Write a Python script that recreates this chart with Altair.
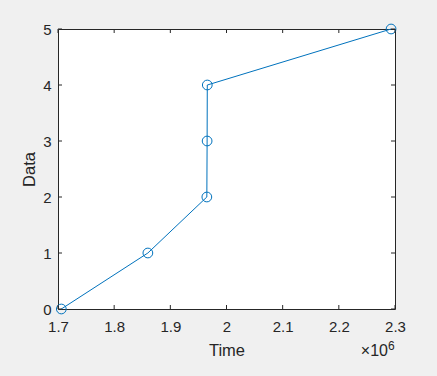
import altair as alt
import pandas as pd

time_vals = [1705900, 1860000, 1965000, 1965500, 1965800, 2293000]
data_vals = [0, 1, 2, 3, 4, 5]
x_ticks = [1.7e6, 1.8e6, 1.9e6, 2.0e6, 2.1e6, 2.2e6, 2.3e6]
y_ticks = [0, 1, 2, 3, 4, 5]

W, H = 337, 280
FONT = "Liberation Sans"
AX = "#262626"
BLUE = "#0072BD"

df = pd.DataFrame({"Time": time_vals, "Data": data_vals, "order": range(len(time_vals))})
xt = pd.DataFrame({"t": x_ticks})
yt = pd.DataFrame({"t": y_ticks})

xscale = alt.Scale(domain=[1.7e6, 2.3e6], nice=False, zero=False)
yscale = alt.Scale(domain=[0, 5], nice=False, zero=False)

xaxis = alt.Axis(values=x_ticks, labelExpr="format(datum.value/1e6, '')", title="Time",
                 ticks=False, domain=False, grid=False, labelPadding=10, titlePadding=8,
                 labelFlush=False, labelOverlap=False, labelBound=False,
                 labelFont=FONT, labelFontSize=15, labelColor=AX, titleFont=FONT,
                 titleFontSize=16.5, titleFontWeight="normal", titleColor=AX)
yaxis = alt.Axis(values=y_ticks, title="Data", ticks=False, domain=False, grid=False,
                 labelPadding=7, titlePadding=5, labelFlush=False, labelOverlap=False,
                 labelFont=FONT, labelFontSize=15,
                 labelColor=AX, titleFont=FONT, titleFontSize=16.5,
                 titleFontWeight="normal", titleColor=AX)

line = alt.Chart(df).mark_line(color=BLUE, strokeWidth=1).encode(
    x=alt.X("Time:Q", scale=xscale, axis=xaxis),
    y=alt.Y("Data:Q", scale=yscale, axis=yaxis),
    order="order:Q",
)
pts = alt.Chart(df).mark_point(shape="circle", filled=False, color=BLUE, size=95,
                               strokeWidth=1, opacity=1).encode(
    x=alt.X("Time:Q", scale=xscale),
    y=alt.Y("Data:Q", scale=yscale),
)

TL = 4
xb = alt.Chart(xt).mark_rule(color=AX, strokeWidth=1).encode(
    x=alt.X("t:Q", scale=xscale), y=alt.value(H), y2=alt.value(H - TL))
xtop = alt.Chart(xt).mark_rule(color=AX, strokeWidth=1).encode(
    x=alt.X("t:Q", scale=xscale), y=alt.value(0), y2=alt.value(TL))
yl = alt.Chart(yt).mark_rule(color=AX, strokeWidth=1).encode(
    y=alt.Y("t:Q", scale=yscale), x=alt.value(0), x2=alt.value(TL))
yr = alt.Chart(yt).mark_rule(color=AX, strokeWidth=1).encode(
    y=alt.Y("t:Q", scale=yscale), x=alt.value(W), x2=alt.value(W - TL))

exp_base = alt.Chart(pd.DataFrame({"s": ["\u00d710"]})).mark_text(
    font=FONT, fontSize=16, color=AX, align="right", baseline="alphabetic"
).encode(text="s:N", x=alt.value(W - 7), y=alt.value(H + 47))
exp_sup = alt.Chart(pd.DataFrame({"s": ["6"]})).mark_text(
    font=FONT, fontSize=12, color=AX, align="left", baseline="alphabetic"
).encode(text="s:N", x=alt.value(W - 7), y=alt.value(H + 41))

chart = alt.layer(line, pts, xb, xtop, yl, yr, exp_base, exp_sup).properties(
    width=W, height=H,
    background="#f0f0f0",
    autosize=alt.AutoSizeParams(type="none"),
    padding={"left": 58, "top": 29, "right": 42, "bottom": 67},
).configure_view(fill="white", stroke=AX, strokeWidth=1)

chart.save("out.html", embed_options={"renderer": "svg", "actions": False})
